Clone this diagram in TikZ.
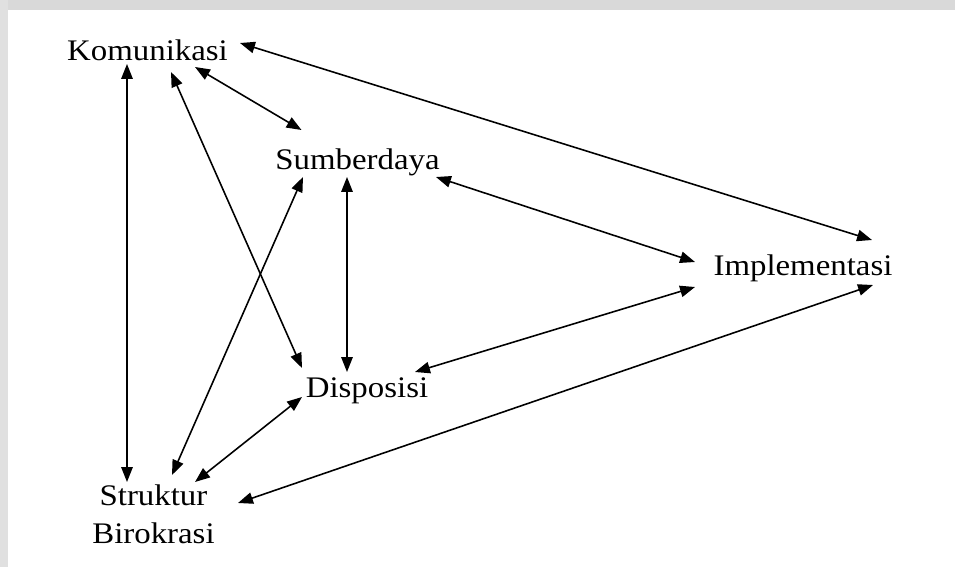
\documentclass[tikz,border=0pt]{standalone}
\usepackage{fontspec}
\setmainfont{Liberation Serif}[FakeStretch=1.1]
\usetikzlibrary{arrows.meta}
\tikzstyle{factor} = [inner sep=0pt, anchor=base, align=center, text=black, font=\fontsize{17}{21.6}\selectfont]
\tikzstyle{arrow} = [line width=0.9pt, {Triangle[length=8.5pt,width=6.5pt]}-{Triangle[length=8.5pt,width=6.5pt]}]

\begin{document}
\begin{tikzpicture}

    % Bingkai
    \useasboundingbox (0,0) rectangle (19.1,-11.34);
    \fill [black!15] (0,0) rectangle (19.1,-0.2);
    \fill [black!12] (0,0) rectangle (0.16,-11.34);

    % Faktor-faktor
    \node (kom) [factor] at (2.95,-1.20) {Komunikasi};
    \node (sum) [factor] at (7.15,-3.38) {Sumberdaya};
    \node (imp) [factor] at (16.06,-5.50) {Implementasi};
    \node (dis) [factor] at (7.34,-7.94) {Disposisi};
    \node (str) [factor] at (3.07,-10.86) {Struktur\\Birokrasi};

    % Panah dua arah
    \draw [arrow] ([shift={(-0.41,-0.08)}]kom.base) -- ([shift={(-0.53,1.22)}]str.base);
    \draw [arrow] ([shift={(0.47,-0.24)}]kom.base) -- ([shift={(-1.30,0.58)}]dis.base);
    \draw [arrow] ([shift={(0.95,-0.14)}]kom.base) -- ([shift={(-1.12,0.78)}]sum.base);
    \draw [arrow] ([shift={(1.85,0.34)}]kom.base) -- ([shift={(1.38,0.70)}]imp.base);
    \draw [arrow] ([shift={(-0.21,-0.16)}]sum.base) -- ([shift={(-0.40,0.50)}]dis.base);
    \draw [arrow] ([shift={(1.57,-0.16)}]sum.base) -- ([shift={(-2.16,0.26)}]imp.base);
    \draw [arrow] ([shift={(-1.09,-0.16)}]sum.base) -- ([shift={(0.37,1.36)}]str.base);
    \draw [arrow] ([shift={(0.96,0.50)}]dis.base) -- ([shift={(-2.16,-0.24)}]imp.base);
    \draw [arrow] ([shift={(-1.30,0)}]dis.base) -- ([shift={(0.83,1.22)}]str.base);
    \draw [arrow] ([shift={(1.40,-0.20)}]imp.base) -- ([shift={(1.69,0.80)}]str.base);

\end{tikzpicture}
\end{document}
